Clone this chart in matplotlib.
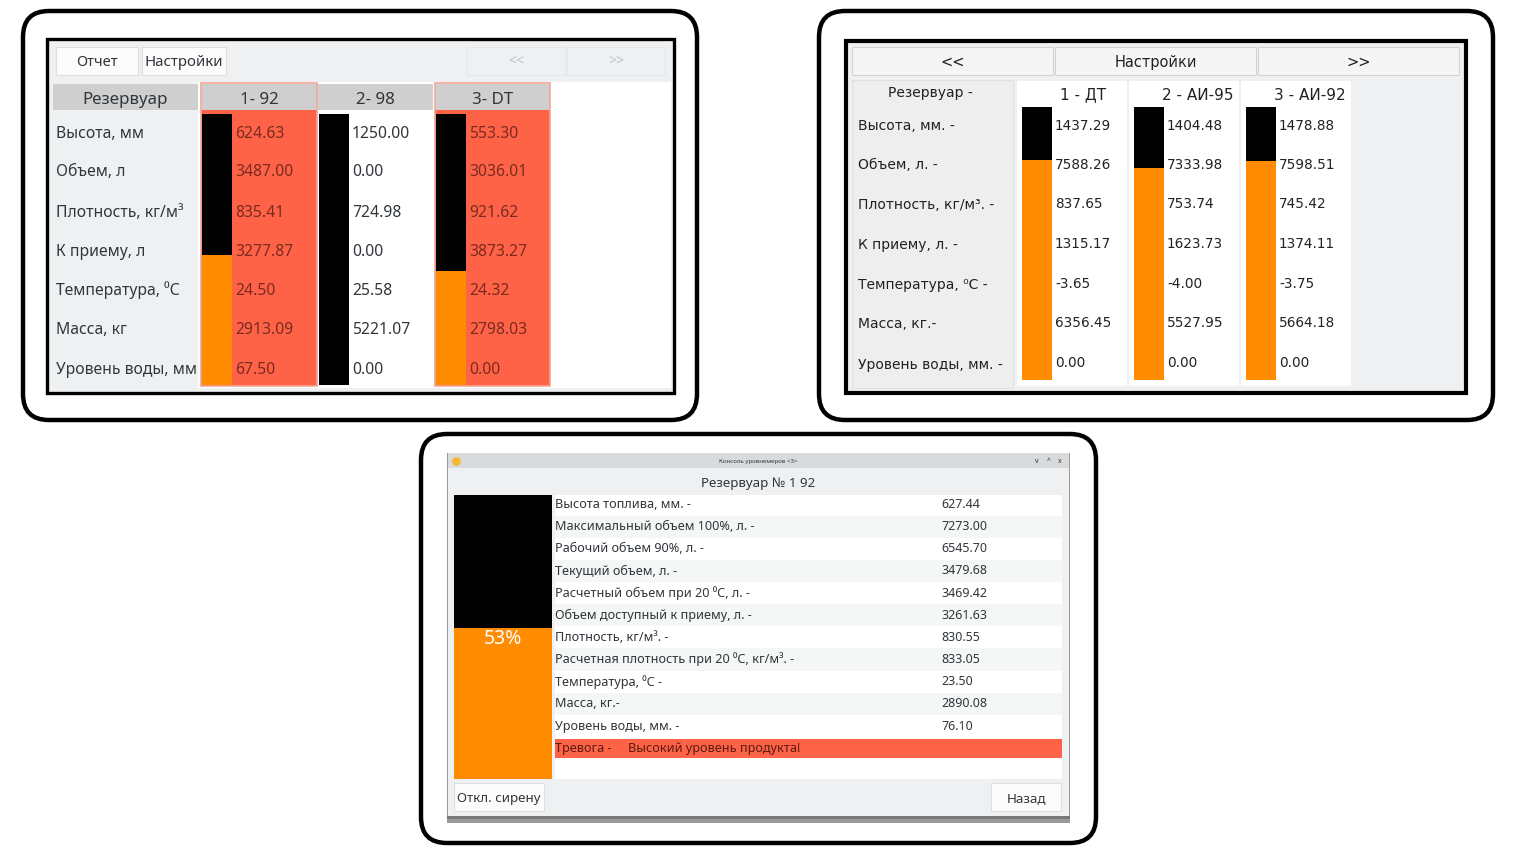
import matplotlib
matplotlib.use("Agg")
import matplotlib.pyplot as plt
from matplotlib.patches import FancyBboxPatch, Rectangle

W, H = 1519, 855
NOTO = "Noto Sans"
DJ = "DejaVu Sans"

# ---------- data ----------
p1_rows = ["Высота, мм", "Объем, л", "Плотность, кг/м³", "К приему, л", "Температура, ⁰С", "Масса, кг", "Уровень воды, мм"]
p1_heads = ["1- 92", "2- 98", "3- DT"]
p1_vals = [
    ["624.63", "3487.00", "835.41", "3277.87", "24.50", "2913.09", "67.50"],
    ["1250.00", "0.00", "724.98", "0.00", "25.58", "5221.07", "0.00"],
    ["553.30", "3036.01", "921.62", "3873.27", "24.32", "2798.03", "0.00"],
]
p1_fill = [48, 0, 42]
p1_alarm = [True, False, True]

p2_rows = ["Высота, мм. -", "Объем, л. -", "Плотность, кг/м³. -", "К приему, л. -", "Температура, ⁰С -", "Масса, кг.-", "Уровень воды, мм. -"]
p2_heads = ["1 - ДТ", "2 - АИ-95", "3 - АИ-92"]
p2_vals = [
    ["1437.29", "7588.26", "837.65", "1315.17", "-3.65", "6356.45", "0.00"],
    ["1404.48", "7333.98", "753.74", "1623.73", "-4.00", "5527.95", "0.00"],
    ["1478.88", "7598.51", "745.42", "1374.11", "-3.75", "5664.18", "0.00"],
]
p2_fill = [80.6, 77.6, 80.2]

p3_rows = ["Высота топлива, мм. -", "Максимальный объем 100%, л. -", "Рабочий объем 90%, л. -", "Текущий объем, л. -",
           "Расчетный объем при 20 ⁰С, л. -", "Объем доступный к приему, л. -", "Плотность, кг/м³. -",
           "Расчетная плотность при 20 ⁰С, кг/м³. -", "Температура, ⁰С -", "Масса, кг.-", "Уровень воды, мм. -"]
p3_vals = ["627.44", "7273.00", "6545.70", "3479.68", "3469.42", "3261.63", "830.55", "833.05", "23.50", "2890.08", "76.10"]
p3_fill = 53

TOMATO = "#ff6347"
ORANGE = "#ff8c00"
BG = "#eff0f1"
GREY = "#cfcfcf"
TXT = "#31363b"

fig = plt.figure(figsize=(W / 100, H / 100), dpi=100, facecolor="white")
ax = fig.add_axes([0, 0, 1, 1])
ax.set_xlim(0, W)
ax.set_ylim(H, 0)
ax.axis("off")


def rect(x0, y0, x1, y1, fc, ec="none", lw=0, z=1, alpha=None):
    ax.add_patch(Rectangle((x0, y0), x1 - x0, y1 - y0, facecolor=fc, edgecolor=ec, linewidth=lw, zorder=z, alpha=alpha))


def frame(x0, y0, x1, y1, r=26):
    ax.add_patch(FancyBboxPatch((x0 + r, y0 + r), x1 - x0 - 2 * r, y1 - y0 - 2 * r,
                                boxstyle=f"round,pad={r},rounding_size={r}", facecolor="white",
                                edgecolor="black", linewidth=3.2, zorder=0.5))


def txt(x, y, s, size=12, color=TXT, ha="left", family=NOTO, z=6):
    ax.text(x, y, s, fontsize=size, color=color, ha=ha, va="center", family=family, zorder=z)


def button(x0, y0, x1, y1, s, size=11, color=TXT, fc="#fcfcfc", ec="#dcdedf", family=NOTO):
    rect(x0, y0, x1, y1, fc, ec, 0.8, 3)
    txt((x0 + x1) / 2, (y0 + y1) / 2 + 1.5, s, size, color, "center", family)


def gauge(x0, y0, x1, y1, pct, label=None):
    g = fig.add_axes([x0 / W, 1 - y1 / H, (x1 - x0) / W, (y1 - y0) / H], zorder=4)
    g.bar([0], [100], width=1, color="black")
    g.bar([0], [pct], width=1, color=ORANGE)
    g.set_xlim(-0.5, 0.5)
    g.set_ylim(0, 100)
    g.axis("off")
    if label:
        g.annotate(label, (0, pct), xytext=(0, -7.5), textcoords="offset points", ha="center", va="center",
                   color="white", fontsize=14, family=NOTO)
    return g


# ---------- panel 1 ----------
frame(23, 11, 697, 420)
rect(47, 39, 674, 393, BG, "black", 2.4, 1)
button(56, 47, 138, 75, "Отчет", 10.5)
button(142, 47, 226, 75, "Настройки", 10.8)
button(467, 47, 565, 75, "<<", 10, "#bfc2c4", BG, "#e6e7e8")
button(567, 47, 665, 75, ">>", 10, "#bfc2c4", BG, "#e6e7e8")
rect(198, 82, 671, 388, "white", z=1)
rect(53, 84, 198, 110, GREY, z=2)
txt(125, 99.5, "Резервуар", 12.2, ha="center")
p1_cols = [(201, 317), (318, 433), (435, 550)]
for i, (x0, x1) in enumerate(p1_cols):
    rect(x0, 84, x1, 110, GREY, z=2)
    if p1_alarm[i]:
        rect(x0, 110, x1, 386, TOMATO, z=2)
        ax.add_patch(Rectangle((x0, 83), x1 - x0, 303, fill=False, edgecolor="#f4a595", linewidth=1.2, zorder=3))
    txt((x0 + x1) / 2, 99.5, p1_heads[i], 12.2, ha="center")
    gauge(x0 + 1, 114, x0 + 31, 385, p1_fill[i])
p1_y = [133.5, 172.5, 212.5, 251.5, 290.5, 329.5, 369.5]
for lab, y in zip(p1_rows, p1_y):
    txt(56.5, y, lab, 11.3)
for i, (x0, x1) in enumerate(p1_cols):
    for v, y in zip(p1_vals[i], p1_y):
        txt(x0 + 34, y, v, 11.3, "#7a2a20" if p1_alarm[i] else TXT)

# ---------- panel 2 ----------
frame(819, 11, 1493, 420)
rect(846, 41, 1466, 393, BG, "black", 3, 1)
button(852, 47, 1053, 75, "<<", 10.5, "#222222", "#f5f5f5", "#d4d4d4", DJ)
button(1055, 47, 1256, 75, "Настройки", 10.5, "#222222", "#f5f5f5", "#d4d4d4", DJ)
button(1258, 47, 1459, 75, ">>", 10.5, "#222222", "#f5f5f5", "#d4d4d4", DJ)
rect(852, 80, 1013, 388, "#eeeeee", "#e0e0e0", 0.8, 2)
txt(930, 93, "Резервуар -", 10, "#222222", "center", DJ)
p2_y = [125.5, 165, 205, 245, 285, 324, 365]
p2_vy = [125.5, 165, 204, 244, 284, 323, 363]
for lab, y in zip(p2_rows, p2_y):
    txt(857.5, y, lab, 10, "#222222", family=DJ)
p2_cols = [(1017, 1127), (1129, 1239), (1241, 1351)]
p2_head_right = [1106, 1234, 1346]
for i, (x0, x1) in enumerate(p2_cols):
    rect(x0, 81, x1, 386, "white", z=2)
    txt(p2_head_right[i], 95, p2_heads[i], 11, "#222222", "right", DJ)
    gauge(x0 + 5, 107, x0 + 35, 380, p2_fill[i])
    for v, y in zip(p2_vals[i], p2_vy):
        txt(x0 + 38, y, v, 9.8, "#222222", family=DJ)

# ---------- panel 3 ----------
frame(421, 434, 1096, 843)
rect(447, 453, 1070, 823, "#9a9a9a", z=1)
rect(447, 816, 1070, 819, "#777777", z=1.2)
rect(448, 453, 1069, 816, BG, z=1.5)
rect(448, 453, 1069, 468, "#d9dadb", z=2)
ax.scatter([456], [461], s=28, color="#f7b733", zorder=3)
txt(758, 461.5, "Консоль уровнемеров <3>", 4.4, ha="center")
txt(1037, 461, "v", 5, ha="center")
txt(1049, 461, "^", 5, ha="center")
txt(1060, 461, "x", 5, ha="center")
txt(758, 483, "Резервуар № 1 92", 9.6, ha="center")
gauge(454, 495, 552, 779, p3_fill, f"{p3_fill}%")
rect(555, 495, 1062, 779, "white", z=2)
p3_step = 22.15
for i, (lab, v) in enumerate(zip(p3_rows, p3_vals)):
    y = 504.5 + i * p3_step
    if i % 2:
        rect(555, y - p3_step / 2, 1062, y + p3_step / 2, "#f5f6f6", z=2.5)
    txt(555, y, lab, 9.1)
    txt(941, y, v, 9.0)
rect(555, 738.5, 1062, 757.5, TOMATO, z=3)
txt(555, 748.5, "Тревога -", 9.1, "#5a1a10")
txt(627.5, 748.5, "Высокий уровень продукта!", 9.1, "#5a1a10")
button(454, 783, 544, 811, "Откл. сирену", 9.6)
button(991, 783, 1061, 811, "Назад", 9.6)

fig.savefig("out.png", dpi=100)
